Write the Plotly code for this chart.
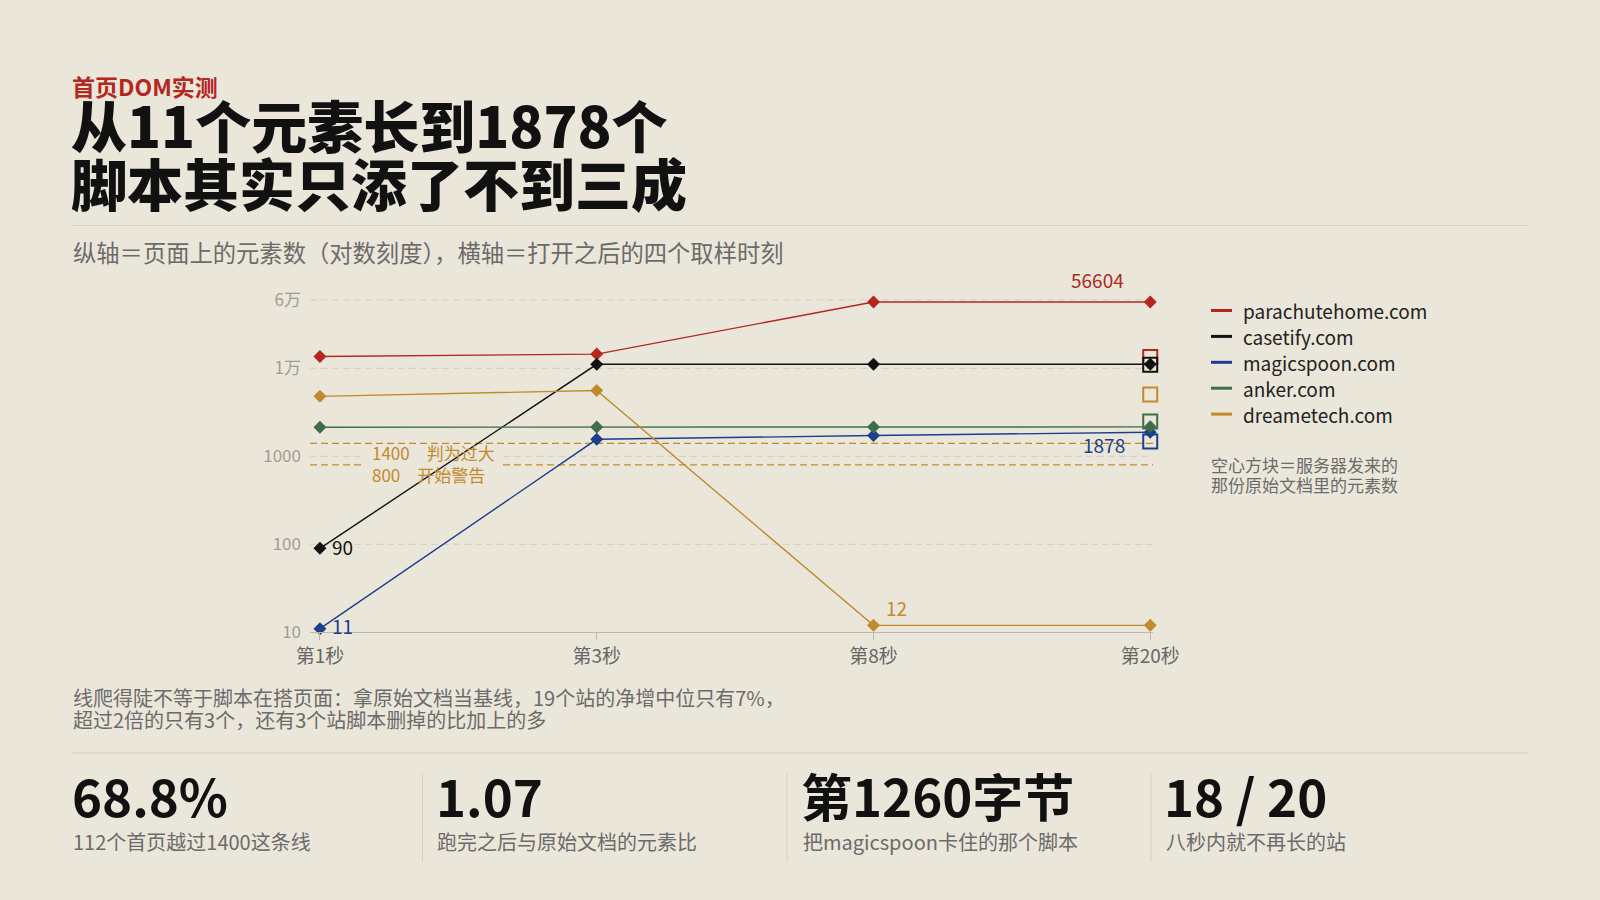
import math
import plotly.graph_objects as go

# ---------------- data ----------------
categories = ["第1秒", "第3秒", "第8秒", "第20秒"]
sites = ["parachutehome.com", "casetify.com", "magicspoon.com", "anker.com", "dreametech.com"]
parachute = [13600, 14500, 56604, 56604]
casetify = [90, 11100, 11100, 11100]
magicspoon = [11, 1560, 1720, 1878]
anker = [2140, 2150, 2150, 2160]
dreametech = [4800, 5600, 12, 12]
raw_counts = [13400, 11000, 1470, 2480, 5040]   # hollow squares at 第20秒
thresholds = [1400, 800]
threshold_text = "1400　判为过大<br>800　开始警告"
y_tick_vals = [10, 100, 1000, 10000, 60000]
y_tick_text = ["10", "100", "1000", "1万", "6万"]
stat_values = ["68.8%", "1.07", "第1260字节", "18 / 20"]
stat_labels = ["112个首页越过1400这条线", "跑完之后与原始文档的元素比",
               "把magicspoon卡住的那个脚本", "八秒内就不再长的站"]

series = [parachute, casetify, magicspoon, anker, dreametech]

# ---------------- style ----------------
BG = "#ebe6da"
FONT = "Noto Sans CJK SC"
colors = ["#b3271f", "#111111", "#1d3d8f", "#3f6d48", "#c18b2c"]
GOLD = colors[4]
GRID = "#d3cec1"
W, H = 1600, 900
x_lo, x_hi = 310, 1153
y_bot, y_top = 632.3, 294.6
gap_lo, gap_hi = 363, 503   # horizontal gap behind threshold label


def px(x):
    return x / W


def py(y):
    return 1 - y / H


def dx(x):
    return (x - x_lo) / (x_hi - x_lo)


fig = go.Figure()

# hollow squares (raw document counts)
for name, c, r in zip(sites, colors, raw_counts):
    fig.add_trace(go.Scatter(
        x=[categories[-1]], y=[r], mode="markers", showlegend=False, hoverinfo="skip",
        marker=dict(symbol="square-open", size=14, color=c, line=dict(width=2, color=c)),
        cliponaxis=False))

# main lines
for name, c, vals in zip(sites, colors, series):
    fig.add_trace(go.Scatter(
        x=categories, y=vals, mode="lines+markers", name=name, showlegend=False,
        line=dict(color=c, width=1.4),
        marker=dict(symbol="diamond", size=10, color=c),
        cliponaxis=False))

shapes = []


def hline(val, color, width, gapped):
    spans = [(0, dx(gap_lo)), (dx(gap_hi), 1)] if gapped else [(0, 1)]
    for a, b in spans:
        shapes.append(dict(type="line", xref="x domain", yref="y", x0=a, x1=b, y0=val, y1=val,
                           line=dict(color=color, width=width, dash="7px,4px"), layer="below"))


# dashed grid (drawn as shapes so the label can interrupt it)
for v in y_tick_vals[1:]:
    hline(v, GRID, 1, v == 1000)
# threshold lines
hline(thresholds[0], GOLD, 1.3, False)
hline(thresholds[1], GOLD, 1.3, True)

# rules
shapes.append(dict(type="line", xref="paper", yref="paper", x0=px(72.5), x1=px(1528),
                   y0=py(225.5), y1=py(225.5), line=dict(color="#d5cfc2", width=1)))
shapes.append(dict(type="line", xref="paper", yref="paper", x0=px(72.5), x1=px(1528),
                   y0=py(753), y1=py(753), line=dict(color="#d5cfc2", width=1)))
for sx in [422.5, 787, 1151]:
    shapes.append(dict(type="line", xref="paper", yref="paper", x0=px(sx), x1=px(sx),
                       y0=py(773.5), y1=py(862), line=dict(color="#d5cfc2", width=1)))

annotations = []


def note(x, y, text, size, color, weight=400, xanchor="left", yanchor="middle"):
    annotations.append(dict(xref="paper", yref="paper", x=px(x), y=py(y), text=text,
                            showarrow=False, xanchor=xanchor, yanchor=yanchor,
                            font=dict(family=FONT, size=size, color=color, weight=weight)))


# header
note(70, 86, "首页DOM实测", 23, colors[0], 700)
note(69, 123.5, "从11个元素长到1878个", 56, "#111111", 900)
note(69, 181, "脚本其实只添了不到三成", 56, "#111111", 900)
note(71, 252, "纵轴＝页面上的元素数（对数刻度），横轴＝打开之后的四个取样时刻", 23.3, "#6b6b6b")

# threshold labels
annotations.append(dict(xref="paper", yref="paper", x=px(370), y=py(463), text=threshold_text,
                        showarrow=False, xanchor="left", yanchor="middle", align="left",
                        font=dict(family=FONT, size=17, color=GOLD)))

# point labels: (series index, category index, xanchor, xshift, yshift)
point_labels = [(0, 3, "right", -24, 23), (2, 3, "right", -23, -12),
                (1, 0, "left", 10, 2), (2, 0, "left", 10, 3), (4, 2, "left", 11, 18)]
for si, ci, xa, xs, ys in point_labels:
    v = series[si][ci]
    annotations.append(dict(xref="x", yref="y", x=categories[ci], y=math.log10(v), text=str(v),
                            showarrow=False, xanchor=xa, yanchor="middle", xshift=xs, yshift=ys,
                            font=dict(family=FONT, size=19, color=colors[si])))

# legend (manual)
for i, (name, c) in enumerate(zip(sites, colors)):
    ly = 310.5 + 25.9 * i
    shapes.append(dict(type="line", xref="paper", yref="paper", x0=px(1211), x1=px(1232),
                       y0=py(ly), y1=py(ly), line=dict(color=c, width=3)))
    note(1241, ly, name, 19, "#222222")
note(1209, 464, "空心方块＝服务器发来的", 17, "#6b6b6b")
note(1209, 484.5, "那份原始文档里的元素数", 17, "#6b6b6b")

# bottom note
note(71, 697.5, "线爬得陡不等于脚本在搭页面：拿原始文档当基线，19个站的净增中位只有7%，", 20, "#6b6b6b")
note(71, 719, "超过2倍的只有3个，还有3个站脚本删掉的比加上的多", 20, "#6b6b6b")

# stats
for sx, val, lab in zip([72.5, 436.7, 802, 1165], stat_values, stat_labels):
    note(sx - 3, 795, val, 51, "#111111", 700)
    note(sx - 1.5, 841, lab, 20, "#6b6b6b")

fig.update_layout(
    width=W, height=H, margin=dict(l=0, r=0, t=0, b=0, pad=0, autoexpand=False),
    paper_bgcolor=BG, plot_bgcolor=BG, showlegend=False,
    font=dict(family=FONT),
    shapes=shapes, annotations=annotations,
    xaxis=dict(domain=[px(x_lo), px(x_hi)], type="category", range=[-0.036, 3.01],
               categoryorder="array", categoryarray=categories, automargin=False,
               showgrid=False, showline=True, linecolor="#bdb8ac", linewidth=1,
               ticks="outside", ticklen=7, tickcolor="#bdb8ac",
               tickfont=dict(family=FONT, size=19, color="#666666"), zeroline=False),
    yaxis=dict(domain=[py(y_bot), py(y_top)], type="log", automargin=False,
               range=[1, 1 + (y_bot - y_top) / 88.0],
               tickvals=y_tick_vals, ticktext=y_tick_text,
               showgrid=False, showline=False, zeroline=False, ticks="", ticklabelstandoff=8,
               tickfont=dict(family=FONT, size=17, color="#a29d92")),
)

fig.write_html("out.html", config={"displayModeBar": False},
               post_script="document.body.style.margin='0';document.body.style.overflow='hidden';")
